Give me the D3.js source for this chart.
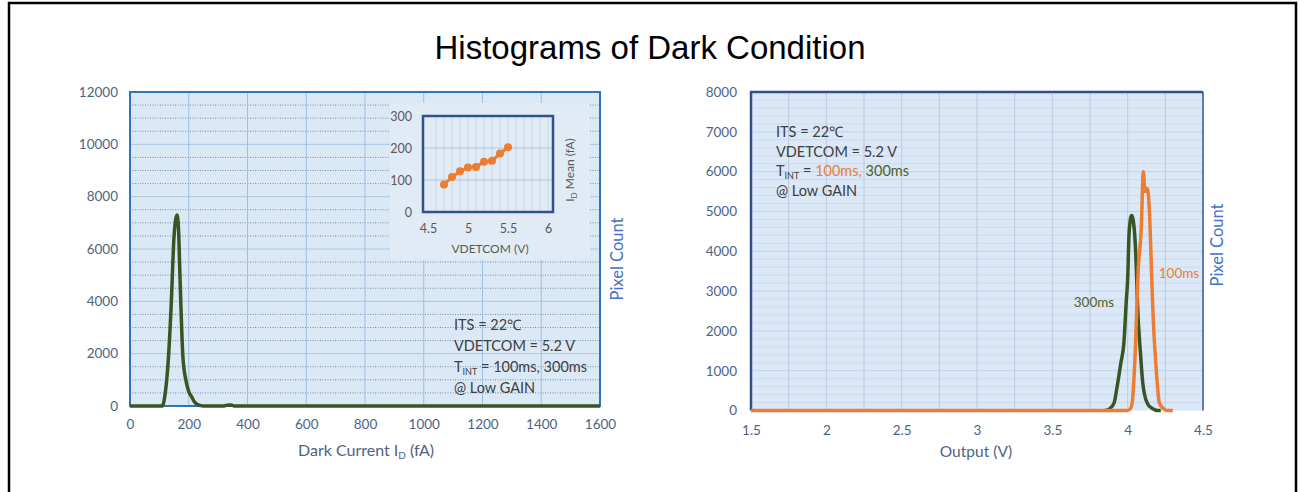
<!DOCTYPE html>
<html>
<head>
<meta charset="utf-8">
<script src="https://cdn.jsdelivr.net/npm/d3@7"></script>
<style>
  body { margin: 0; background: #fff; }
  svg { display: block; font-family: Lato, 'Open Sans', sans-serif; }
</style>
</head>
<body>
<div id="chart"></div>
<script>
// left histogram: dark current (fA) vs pixel count
const darkCurrent = [0, 100, 110, 120, 125, 130, 140, 150, 155, 160, 165, 170, 180, 190, 200, 210, 220, 230, 250, 320, 335, 345, 355, 1600]
const darkCount = [0, 0, 0, 500, 1000, 1700, 3800, 6500, 7100, 7300, 6800, 5000, 1900, 1000, 550, 350, 150, 60, 0, 0, 40, 40, 0, 0]

// inset: mean dark current vs VDETCOM
const vdetcom = [4.7, 4.8, 4.9, 5.0, 5.1, 5.2, 5.3, 5.4, 5.5]
const meanId = [86, 109, 127, 139, 141, 157, 160, 183, 202]

// right histogram: output voltage, 300ms and 100ms
const out300 = [3.85, 3.88, 3.91, 3.93, 3.955, 3.975, 3.99, 4.0, 4.01, 4.026, 4.045, 4.06, 4.065, 4.085, 4.1, 4.11, 4.135, 4.16, 4.2, 4.22]
const count300 = [0, 40, 190, 600, 1200, 1700, 2700, 3300, 4500, 4900, 4500, 3300, 2700, 1440, 700, 440, 150, 60, 0, 0]
const out100 = [1.5, 4.0, 4.02, 4.03, 4.05, 4.07, 4.09, 4.104, 4.115, 4.13, 4.145, 4.16, 4.17, 4.19, 4.21, 4.24, 4.26, 4.3]
const count100 = [0, 0, 60, 190, 1440, 3530, 4540, 6000, 5500, 5580, 4960, 3300, 2270, 1020, 190, 40, 0, 0]

// ticks
const leftXTicks = [0, 200, 400, 600, 800, 1000, 1200, 1400, 1600]
const leftYTicks = [0, 2000, 4000, 6000, 8000, 10000, 12000]
const insetXTicks = [4.5, 5, 5.5, 6]
const insetYTicks = [0, 100, 200, 300]
const rightXTicks = [1.5, 2, 2.5, 3, 3.5, 4, 4.5]
const rightYTicks = [0, 1000, 2000, 3000, 4000, 5000, 6000, 7000, 8000]

const W = 1300
const H = 492
const green = '#375623'
const orange = '#ed7d31'
const tickColor = '#4d6385'
const textColor = '#404040'
const plain = d3.format('')

const svg = d3.select('#chart').append('svg')
  .attr('width', W)
  .attr('height', H)

// outer frame
svg.append('rect')
  .attr('x', 9).attr('y', 3)
  .attr('width', 1287).attr('height', 500)
  .attr('fill', 'none')
  .attr('stroke', '#000')
  .attr('stroke-width', 2.5)

svg.append('text')
  .attr('x', 650).attr('y', 59)
  .attr('text-anchor', 'middle')
  .style('font-family', "'Liberation Sans', Arial, sans-serif")
  .style('font-size', '33px')
  .attr('fill', '#000')
  .text('Histograms of Dark Condition')

// helper for the stats block
function stats($g, x, y, lh, colored) {
  const lines = ['ITS = 22\u2103', 'VDETCOM = 5.2 V']
  lines.forEach((t, i) => {
    $g.append('text')
      .attr('x', x).attr('y', y + i * lh)
      .attr('fill', textColor)
      .style('font-size', '14.5px')
      .text(t)
  })
  const t = $g.append('text')
    .attr('x', x).attr('y', y + 2 * lh)
    .attr('fill', textColor)
    .style('font-size', '14.5px')
  t.append('tspan').text('T')
  t.append('tspan').attr('dy', 3).style('font-size', '9px').text('INT')
  t.append('tspan').attr('dy', -3).text(' = ')
  t.append('tspan').attr('fill', colored ? orange : textColor).text('100ms,')
  t.append('tspan').attr('fill', colored ? '#4f6228' : textColor).text(' 300ms')
  $g.append('text')
    .attr('x', x).attr('y', y + 3 * lh)
    .attr('fill', textColor)
    .style('font-size', '14.5px')
    .text('@ Low GAIN')
}

function styleAxis($a, size) {
  $a.select('.domain').remove()
  $a.selectAll('text')
    .attr('fill', tickColor)
    .style('font-size', size)
    .style('font-family', 'Lato, sans-serif')
}

// ---------- left chart ----------
const lx = d3.scaleLinear().domain([0, 1600]).range([130, 600])
const ly = d3.scaleLinear().domain([0, 12000]).range([406, 92])
const $left = svg.append('g')

$left.append('rect')
  .attr('x', lx(0)).attr('y', ly(12000))
  .attr('width', lx(1600) - lx(0)).attr('height', ly(0) - ly(12000))
  .attr('fill', '#dbe8f5')

// minor dotted grid every 500
$left.selectAll('.minor')
  .data(d3.range(500, 12000, 500).filter(v => v % 2000 !== 0))
  .enter().append('line')
  .attr('x1', lx(0)).attr('x2', lx(1600))
  .attr('y1', d => ly(d)).attr('y2', d => ly(d))
  .attr('stroke', '#6f8fb3')
  .attr('stroke-width', 1)
  .attr('stroke-dasharray', '1,1.5')

$left.selectAll('.major')
  .data(leftYTicks.slice(1, -1))
  .enter().append('line')
  .attr('x1', lx(0)).attr('x2', lx(1600))
  .attr('y1', d => ly(d)).attr('y2', d => ly(d))
  .attr('stroke', '#a9c6e4')

$left.selectAll('.vgrid')
  .data(leftXTicks.slice(1, -1))
  .enter().append('line')
  .attr('x1', d => lx(d)).attr('x2', d => lx(d))
  .attr('y1', ly(12000)).attr('y2', ly(0))
  .attr('stroke', '#9fbfe0')

$left.append('rect')
  .attr('x', lx(0)).attr('y', ly(12000))
  .attr('width', lx(1600) - lx(0)).attr('height', ly(0) - ly(12000))
  .attr('fill', 'none')
  .attr('stroke', '#2e75b6')
  .attr('stroke-width', 2)

const lineL = d3.line()
  .x((d, i) => lx(darkCurrent[i]))
  .y(d => ly(d))
  .curve(d3.curveMonotoneX)

$left.append('path')
  .datum(darkCount)
  .attr('d', lineL)
  .attr('fill', 'none')
  .attr('stroke', green)
  .attr('stroke-width', 3.5)
  .attr('stroke-linejoin', 'round')

const $lxa = $left.append('g')
  .attr('transform', `translate(0, ${ly(0)})`)
  .call(d3.axisBottom(lx).tickValues(leftXTicks).tickFormat(plain).tickSize(0).tickPadding(13))
styleAxis($lxa, '13.5px')

const $lya = $left.append('g')
  .attr('transform', `translate(${lx(0)}, 0)`)
  .call(d3.axisLeft(ly).tickValues(leftYTicks).tickFormat(plain).tickSize(0).tickPadding(12))
styleAxis($lya, '13.5px')

const xt = $left.append('text')
  .attr('x', 366).attr('y', 456)
  .attr('text-anchor', 'middle')
  .attr('fill', tickColor)
  .style('font-size', '16px')
xt.append('tspan').text('Dark Current I')
xt.append('tspan').attr('dy', 3).style('font-size', '10px').text('D')
xt.append('tspan').attr('dy', -3).text(' (fA)')

$left.append('text')
  .attr('transform', 'translate(623, 259) rotate(-90)')
  .attr('text-anchor', 'middle')
  .attr('fill', '#4472c4')
  .style('font-size', '16.5px')
  .text('Pixel Count')

stats($left, 454, 330, 21, false)

// inset
const ix = d3.scaleLinear().domain([4.5, 6]).range([428, 548])
const iy = d3.scaleLinear().domain([0, 300]).range([212, 116])
const $inset = svg.append('g')

$inset.append('rect')
  .attr('x', 390).attr('y', 103)
  .attr('width', 200).attr('height', 157)
  .attr('fill', '#e0ebf6')

$inset.selectAll('.ivg')
  .data(d3.range(4.6, 6.0, 0.1))
  .enter().append('line')
  .attr('x1', d => ix(d)).attr('x2', d => ix(d))
  .attr('y1', iy(300)).attr('y2', iy(0))
  .attr('stroke', '#cbd7e6')

$inset.selectAll('.ihg')
  .data([100, 200])
  .enter().append('line')
  .attr('x1', ix(4.5) - 5).attr('x2', ix(6) + 5)
  .attr('y1', d => iy(d)).attr('y2', d => iy(d))
  .attr('stroke', '#b4c6dc')

$inset.append('rect')
  .attr('x', ix(4.5) - 5).attr('y', iy(300))
  .attr('width', ix(6) - ix(4.5) + 10).attr('height', iy(0) - iy(300))
  .attr('fill', 'none')
  .attr('stroke', '#2f4f8f')
  .attr('stroke-width', 2.5)

const lineI = d3.line()
  .x((d, i) => ix(vdetcom[i]))
  .y(d => iy(d))

$inset.append('path')
  .datum(meanId)
  .attr('d', lineI)
  .attr('fill', 'none')
  .attr('stroke', orange)
  .attr('stroke-width', 3)

$inset.selectAll('.pt')
  .data(meanId)
  .enter().append('circle')
  .attr('cx', (d, i) => ix(vdetcom[i]))
  .attr('cy', d => iy(d))
  .attr('r', 4)
  .attr('fill', orange)

const $ixa = $inset.append('g')
  .attr('transform', `translate(0, ${iy(0)})`)
  .call(d3.axisBottom(ix).tickValues(insetXTicks).tickFormat(plain).tickSize(0).tickPadding(12))
styleAxis($ixa, '12.5px')
$ixa.selectAll('text').attr('fill', '#595959')

const $iya = $inset.append('g')
  .attr('transform', `translate(${ix(4.5) - 5}, 0)`)
  .call(d3.axisLeft(iy).tickValues(insetYTicks).tickSize(0).tickPadding(11))
styleAxis($iya, '12.5px')
$iya.selectAll('text').attr('fill', '#595959')

$inset.append('text')
  .attr('x', 490).attr('y', 253)
  .attr('text-anchor', 'middle')
  .attr('fill', '#595959')
  .style('font-size', '12px')
  .text('VDETCOM (V)')

const iyt = $inset.append('text')
  .attr('transform', 'translate(574, 170) rotate(-90)')
  .attr('text-anchor', 'middle')
  .attr('fill', '#595959')
  .style('font-size', '12px')
iyt.append('tspan').text('I')
iyt.append('tspan').attr('dy', 3).style('font-size', '8px').text('D')
iyt.append('tspan').attr('dy', -3).text(' Mean (fA)')

// ---------- right chart ----------
const rx = d3.scaleLinear().domain([1.5, 4.5]).range([751, 1203])
const ry = d3.scaleLinear().domain([0, 8000]).range([410.5, 92])
const $right = svg.append('g')

$right.append('rect')
  .attr('x', rx(1.5)).attr('y', ry(8000))
  .attr('width', rx(4.5) - rx(1.5)).attr('height', ry(0) - ry(8000))
  .attr('fill', '#dbe8f7')

$right.selectAll('.rhg')
  .data(d3.range(200, 8000, 200))
  .enter().append('line')
  .attr('x1', rx(1.5)).attr('x2', rx(4.5))
  .attr('y1', d => ry(d)).attr('y2', d => ry(d))
  .attr('stroke', d => d % 1000 === 0 ? '#bccae2' : '#cbd6ea')
  .attr('stroke-width', 0.8)

$right.selectAll('.rvg')
  .data(d3.range(1.75, 4.5, 0.25))
  .enter().append('line')
  .attr('x1', d => rx(d)).attr('x2', d => rx(d))
  .attr('y1', ry(8000)).attr('y2', ry(0))
  .attr('stroke', '#c4c6de')
  .attr('stroke-width', 1)

$right.append('line')
  .attr('x1', rx(4.5)).attr('x2', rx(4.5))
  .attr('y1', ry(8000)).attr('y2', ry(0))
  .attr('stroke', '#2f5597')
  .attr('stroke-width', 1.5)

$right.append('path')
  .attr('d', `M${rx(1.5)},${ry(0)}V${ry(8000)}H${rx(4.5)}`)
  .attr('fill', 'none')
  .attr('stroke', '#2f4f8f')
  .attr('stroke-width', 2.5)

const lineR = xs => d3.line()
  .x((d, i) => rx(xs[i]))
  .y(d => ry(d))
  .curve(d3.curveMonotoneX)

$right.append('path')
  .datum(count300)
  .attr('d', lineR(out300))
  .attr('fill', 'none')
  .attr('stroke', green)
  .attr('stroke-width', 3.5)
  .attr('stroke-linejoin', 'round')

$right.append('path')
  .datum(count100)
  .attr('d', lineR(out100))
  .attr('fill', 'none')
  .attr('stroke', orange)
  .attr('stroke-width', 3.5)
  .attr('stroke-linejoin', 'round')

const $rxa = $right.append('g')
  .attr('transform', `translate(0, ${ry(0)})`)
  .call(d3.axisBottom(rx).tickValues(rightXTicks).tickFormat(plain).tickSize(0).tickPadding(15))
styleAxis($rxa, '13.5px')

const $rya = $right.append('g')
  .attr('transform', `translate(${rx(1.5)}, 0)`)
  .call(d3.axisLeft(ry).tickValues(rightYTicks).tickFormat(plain).tickSize(0).tickPadding(14))
styleAxis($rya, '13.5px')

$right.append('text')
  .attr('x', 976).attr('y', 457)
  .attr('text-anchor', 'middle')
  .attr('fill', tickColor)
  .style('font-size', '15.5px')
  .text('Output (V)')

$right.append('text')
  .attr('transform', 'translate(1223, 245) rotate(-90)')
  .attr('text-anchor', 'middle')
  .attr('fill', '#4472c4')
  .style('font-size', '16.5px')
  .text('Pixel Count')

$right.append('text')
  .attr('x', 1094).attr('y', 307)
  .attr('text-anchor', 'middle')
  .attr('fill', '#4f6228')
  .style('font-size', '13.5px')
  .text('300ms')

$right.append('text')
  .attr('x', 1179).attr('y', 278)
  .attr('text-anchor', 'middle')
  .attr('fill', orange)
  .style('font-size', '13.5px')
  .text('100ms')

stats($right, 776, 137, 19.5, true)
</script>
</body>
</html>
